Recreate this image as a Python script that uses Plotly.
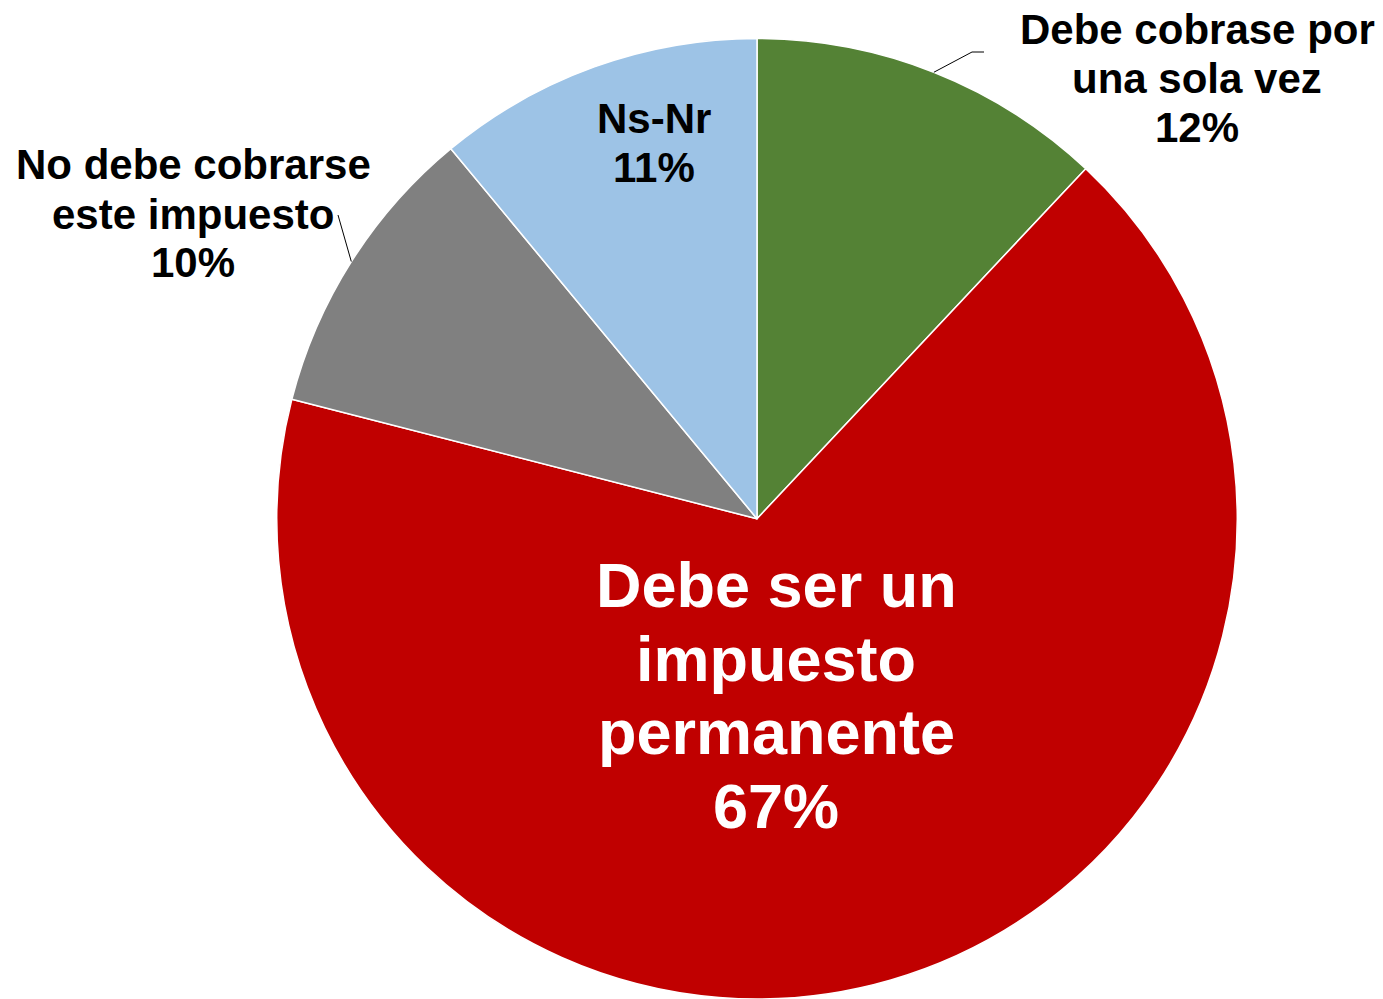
import math
import plotly.graph_objects as go

# Survey answers, clockwise from 12 o'clock
categories = ["Debe cobrase por una sola vez", "Debe ser un impuesto permanente",
              "No debe cobrarse este impuesto", "Ns-Nr"]
values = [12, 67, 10, 11]
colors = ["#548235", "#C00000", "#808080", "#9DC3E6"]

# Label text lines (category split into lines; percent appended from the value)
label_lines = [
    ["Debe cobrase por", "una sola vez"],
    ["Debe ser un", "impuesto", "permanente"],
    ["No debe cobrarse", "este impuesto"],
    ["Ns-Nr"],
]

W, H = 1383, 999
CX, CY, R = 757, 519, 480.5
FONT = "Liberation Sans, Arial, sans-serif"

fig = go.Figure(go.Pie(
    labels=categories,
    values=values,
    sort=False,
    direction="clockwise",
    rotation=0,
    marker=dict(colors=colors, line=dict(color="white", width=1.5)),
    textinfo="none",
    hoverinfo="label+percent",
    showlegend=False,
    domain=dict(x=[(CX - R) / W, (CX + R) / W], y=[max(0, 1 - (CY + R) / H), 1 - (CY - R) / H]),
))

# Label placement: center x, first line y, line pitch, font size, colour
label_style = [
    (1197, 30, 48.5, 42, "black"),
    (776, 585, 73.5, 63, "white"),
    (193, 165, 49, 42, "black"),
    (654, 118, 50, 42, "black"),
]

annotations = []
total = sum(values)
for lines, v, (lx, ly, pitch, size, col) in zip(label_lines, values, label_style):
    pct = f"{round(100 * v / total)}%"
    for i, t in enumerate(lines + [pct]):
        annotations.append(dict(
            x=lx / W, y=1 - (ly + i * pitch) / H, xref="paper", yref="paper",
            text=t, showarrow=False, xanchor="center", yanchor="middle",
            font=dict(family=FONT, size=size, color=col, weight="bold"),
        ))

# Leader lines from the outer edge of the small outside-labelled slices
shapes = []
cum = 0
mids = []
for v in values:
    mids.append((cum + v / 2) / total * 2 * math.pi)
    cum += v

def edge_point(ang):
    return CX + R * math.sin(ang), CY - R * math.cos(ang)

# green slice leader: edge -> elbow -> short horizontal
gx, gy = edge_point(mids[0])
shapes.append(dict(type="path", xref="paper", yref="paper",
                   path=f"M {gx / W} {1 - gy / H} L {972 / W} {1 - 52 / H} L {984 / W} {1 - 52 / H}",
                   line=dict(color="black", width=1)))
# grey slice leader
px, py = edge_point(mids[2])
shapes.append(dict(type="line", xref="paper", yref="paper",
                   x0=px / W, y0=1 - py / H, x1=338 / W, y1=1 - 215 / H,
                   line=dict(color="black", width=1)))

fig.update_layout(
    width=W, height=H,
    margin=dict(l=0, r=0, t=0, b=0),
    paper_bgcolor="white", plot_bgcolor="white",
    annotations=annotations,
    shapes=shapes,
)

fig.write_html("out.html")
